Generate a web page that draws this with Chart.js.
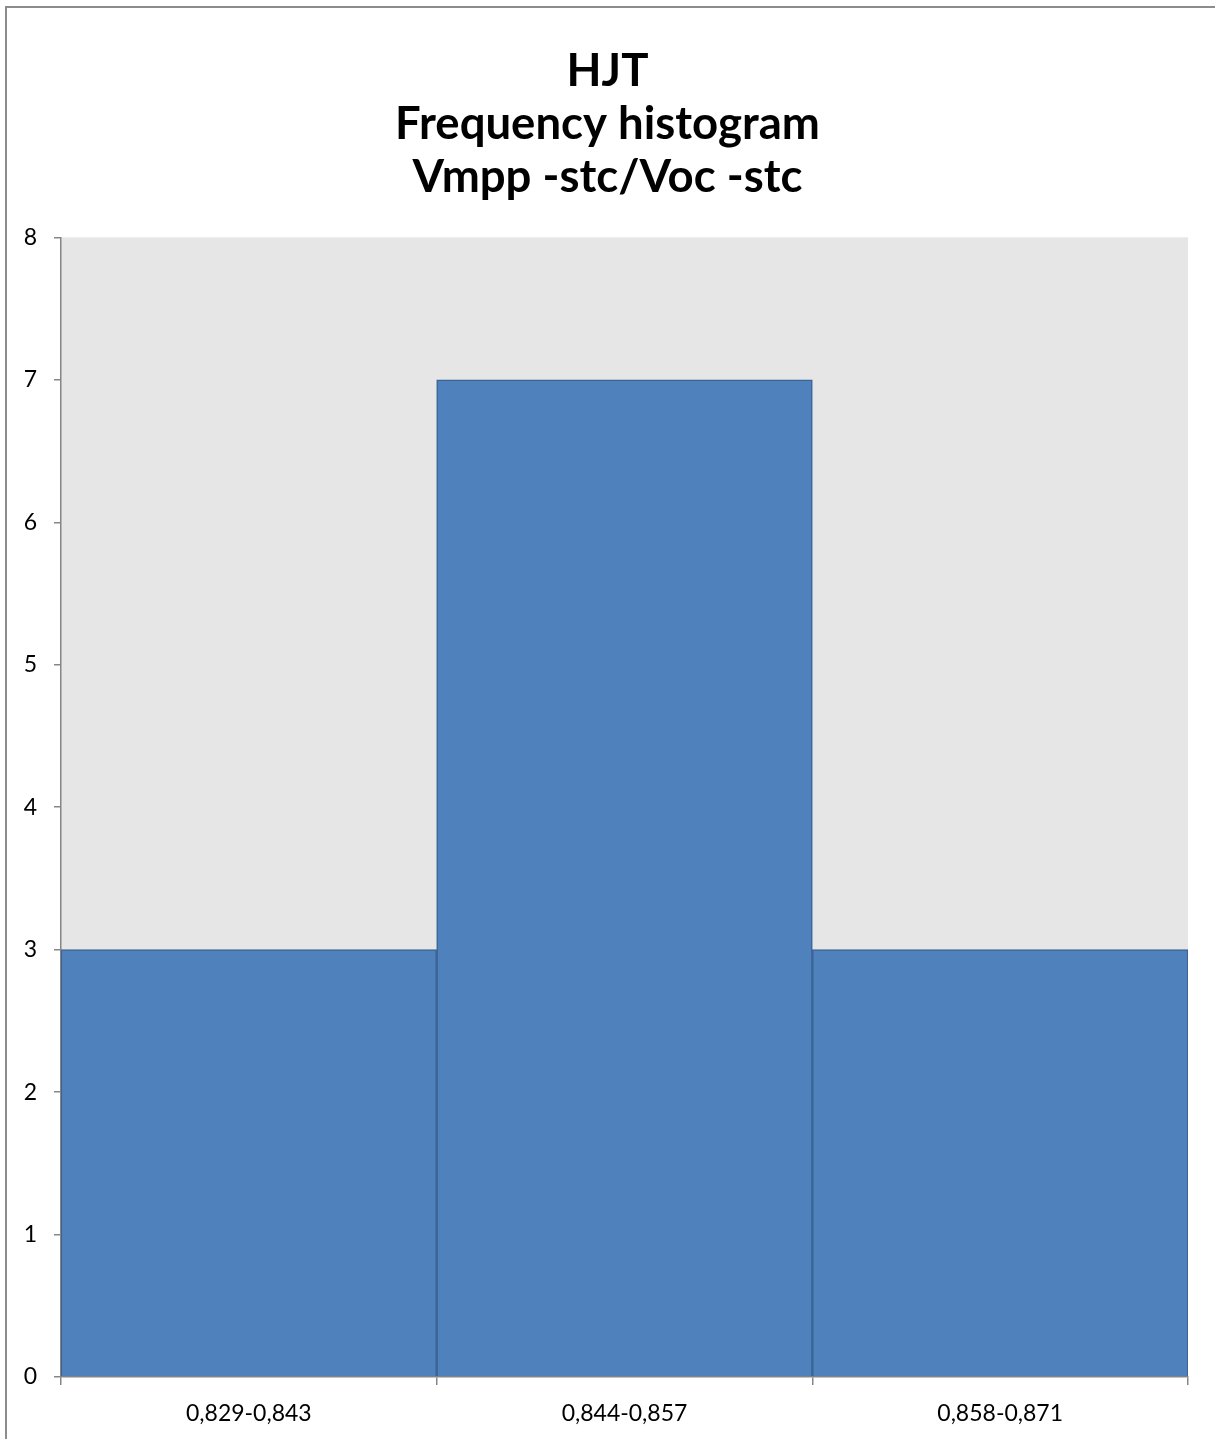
<!DOCTYPE html>
<html>
<head>
<meta charset="utf-8">
<script src="https://cdn.jsdelivr.net/npm/chart.js@4"></script>
<style>
  html, body { margin: 0; padding: 0; background: #fff; overflow: hidden; }
  #wrap { position: relative; width: 1215px; height: 1439px; }
  #frame { position: absolute; left: 5px; top: 6px; width: 1400px; height: 1600px; border: 2px solid #8c8c8c; box-sizing: border-box; pointer-events: none; }
  canvas { position: absolute; left: 0; top: 0; }
</style>
</head>
<body>
<div id="wrap">
  <canvas id="c" width="1215" height="1439"></canvas>
  <div id="frame"></div>
</div>
<script>
const titleLines = ["HJT", "Frequency histogram", "Vmpp -stc/Voc -stc"];
const categories = ["0,829-0,843", "0,844-0,857", "0,858-0,871"];
const frequencies = [3, 7, 3];
const yMin = 0;
const yMax = 8;
const yStep = 1;

const plotBg = {
  id: 'plotBg',
  beforeDraw(chart) {
    const a = chart.chartArea, ctx = chart.ctx;
    ctx.save();
    ctx.fillStyle = '#e6e6e6';
    ctx.fillRect(a.left, a.top, a.right - a.left, a.bottom - a.top);
    ctx.restore();
  }
};

new Chart(document.getElementById('c'), {
  type: 'bar',
  data: {
    labels: categories,
    datasets: [{
      data: frequencies,
      backgroundColor: '#4f81bd',
      borderColor: '#3b6494',
      borderWidth: 1.5,
      borderSkipped: 'start',
      categoryPercentage: 1.0,
      barPercentage: 1.0
    }]
  },
  options: {
    responsive: false,
    animation: false,
    events: [],
    layout: { padding: { left: 0, right: 0, top: 0, bottom: 0 } },
    plugins: {
      legend: { display: false },
      tooltip: { enabled: false },
      title: {
        display: true,
        text: titleLines,
        color: '#000',
        font: { family: 'Lato', size: 45.5, weight: 'bold', lineHeight: 1.16 },
        padding: { top: 45, bottom: 34 }
      }
    },
    scales: {
      x: {
        offset: true,
        grid: { display: true, offset: true, drawOnChartArea: false, drawTicks: true, tickLength: 8, color: '#868686', lineWidth: 1.5 },
        border: { display: true, color: '#868686', width: 1.5 },
        ticks: { color: '#000', font: { family: 'Lato', size: 23 }, padding: 15, maxRotation: 0 },
        afterFit(s) { s.height = 62; }
      },
      y: {
        min: yMin,
        max: yMax,
        ticks: { stepSize: yStep, color: '#000', font: { family: 'Lato', size: 23 }, padding: 17 },
        grid: { display: true, drawOnChartArea: false, drawTicks: true, tickLength: 7, color: '#868686', lineWidth: 1.5 },
        border: { display: true, color: '#868686', width: 1.5 },
        afterFit(s) { s.width = 61; }
      },
      yRightMargin: {
        type: 'linear',
        position: 'right',
        min: yMin,
        max: yMax,
        grid: { display: false, drawTicks: false },
        border: { display: false },
        ticks: { display: false },
        afterFit(s) { s.width = 27; }
      }
    }
  },
  plugins: [plotBg]
});
</script>
</body>
</html>
